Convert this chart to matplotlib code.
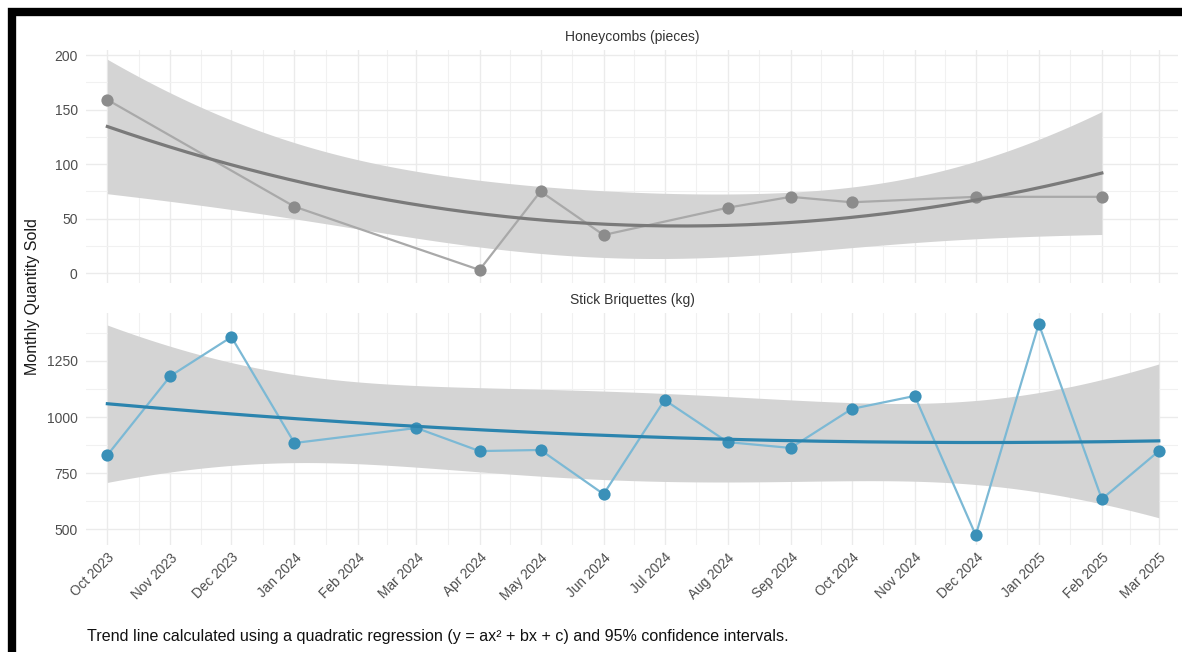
import numpy as np
import pandas as pd
import matplotlib
matplotlib.use("Agg")
import matplotlib.pyplot as plt
import matplotlib.dates as mdates
from matplotlib.patches import Rectangle

plt.rcParams['font.family'] = ['Liberation Sans', 'DejaVu Sans']

# ---- data ----
months = ["2023-10", "2023-11", "2023-12", "2024-01", "2024-02", "2024-03",
          "2024-04", "2024-05", "2024-06", "2024-07", "2024-08", "2024-09",
          "2024-10", "2024-11", "2024-12", "2025-01", "2025-02", "2025-03"]

honey_months = ["2023-10", "2024-01", "2024-04", "2024-05", "2024-06",
                "2024-08", "2024-09", "2024-10", "2024-12", "2025-02"]
honey_qty = [159, 61, 3, 75, 35, 60, 70, 65, 70, 70]

stick_months = ["2023-10", "2023-11", "2023-12", "2024-01", "2024-03",
                "2024-04", "2024-05", "2024-06", "2024-07", "2024-08",
                "2024-09", "2024-10", "2024-11", "2024-12", "2025-01",
                "2025-02", "2025-03"]
stick_qty = [830, 1183, 1357, 884, 951, 848, 853, 656, 1076, 888,
             862, 1036, 1094, 473, 1415, 634, 848]

# two-sided 95% t quantiles for the residual degrees of freedom
t95 = {7: 2.3646, 14: 2.1448}


def to_num(m):
    return mdates.date2num(pd.to_datetime(m))


def quad_fit(xd, y):
    x = np.asarray(xd, float)
    y = np.asarray(y, float)
    x0 = x.mean()
    X = np.column_stack([np.ones_like(x), x - x0, (x - x0) ** 2])
    beta, *_ = np.linalg.lstsq(X, y, rcond=None)
    resid = y - X @ beta
    df = len(y) - 3
    s2 = resid @ resid / df
    cov = s2 * np.linalg.inv(X.T @ X)
    xs = np.linspace(x.min(), x.max(), 200)
    Xs = np.column_stack([np.ones_like(xs), xs - x0, (xs - x0) ** 2])
    fit = Xs @ beta
    se = np.sqrt(np.einsum("ij,jk,ik->i", Xs, cov, Xs))
    t = t95[df]
    return xs, fit, fit - t * se, fit + t * se


W, H = 1182, 652
fig = plt.figure(figsize=(W / 100, H / 100), dpi=100)
fig.patch.set_facecolor("white")


def pax(l, t, r, b):
    return fig.add_axes([l / W, 1 - b / H, (r - l) / W, (b - t) / H])


ax1 = pax(86, 50, 1178, 283)
ax2 = pax(86, 313, 1178, 545)

tick_dates = [to_num(m) for m in months]
minor_dates = [(a + b) / 2 for a, b in zip(tick_dates[:-1], tick_dates[1:])]
pad = 10.5
xlim = (tick_dates[0] - pad, tick_dates[-1] + pad * 0.9)

panels = [
    (ax1, honey_months, honey_qty, "Honeycombs (pieces)",
     "#8c8c8c", "#a9a9a9", "#7a7a7a", (-9, 204.6),
     [0, 50, 100, 150, 200], [25, 75, 125, 175]),
    (ax2, stick_months, stick_qty, "Stick Briquettes (kg)",
     "#3a90b8", "#7cb9d5", "#2b84ae", (429, 1464),
     [500, 750, 1000, 1250], [625, 875, 1125, 1375]),
]

for ax, mlist, vals, title, pc, lc, tc, ylim, yt, ymt in panels:
    xd = [to_num(m) for m in mlist]
    xs, fit, lo, hi = quad_fit(xd, vals)
    ax.fill_between(xs, lo, hi, color="#d4d4d4", lw=0, zorder=1)
    ax.plot(xd, vals, color=lc, lw=1.6, zorder=2)
    ax.plot(xd, vals, "o", color=pc, ms=8.8, mec="none", zorder=3)
    ax.plot(xs, fit, color=tc, lw=2.3, zorder=4)

    ax.set_xlim(*xlim)
    ax.set_ylim(*ylim)
    ax.set_xticks(tick_dates)
    ax.set_xticks(minor_dates, minor=True)
    ax.set_yticks(yt)
    ax.set_yticks(ymt, minor=True)
    ax.grid(True, which="major", color="#ebebeb", lw=1.0)
    ax.grid(True, which="minor", color="#f1f1f1", lw=0.8)
    ax.set_axisbelow(True)
    for s in ax.spines.values():
        s.set_visible(False)
    ax.tick_params(which="both", length=0)
    ax.tick_params(axis="y", labelsize=10, labelcolor="#4d4d4d", pad=6)
    ax.set_title(title, fontsize=10, color="#333333", pad=6.5)

ax1.tick_params(axis="x", labelbottom=False)
ax2.xaxis.set_major_formatter(mdates.DateFormatter("%b %Y"))
plt.setp(ax2.get_xticklabels(), rotation=45, ha="right", rotation_mode="anchor",
         fontsize=9.8, color="#4d4d4d")
ax2.tick_params(axis="x", pad=4)

fig.text(33 / W, 1 - 297 / H, "Monthly Quantity Sold", rotation=90,
         ha="center", va="center", fontsize=11.5, color="#1a1a1a")
fig.text(87 / W, 1 - 636 / H,
         "Trend line calculated using a quadratic regression (y = ax² + bx + c) "
         "and 95% confidence intervals.",
         ha="left", va="center", fontsize=11.6, color="#111111")

# black frame around the pasted figure
frame = Rectangle((12 / W, -0.1), 1.2, 1 - 12 / H + 0.1, transform=fig.transFigure,
                  fill=False, ec="black", lw=6, clip_on=False)
fig.add_artist(frame)

fig.savefig("out.png", dpi=100, facecolor="white")
